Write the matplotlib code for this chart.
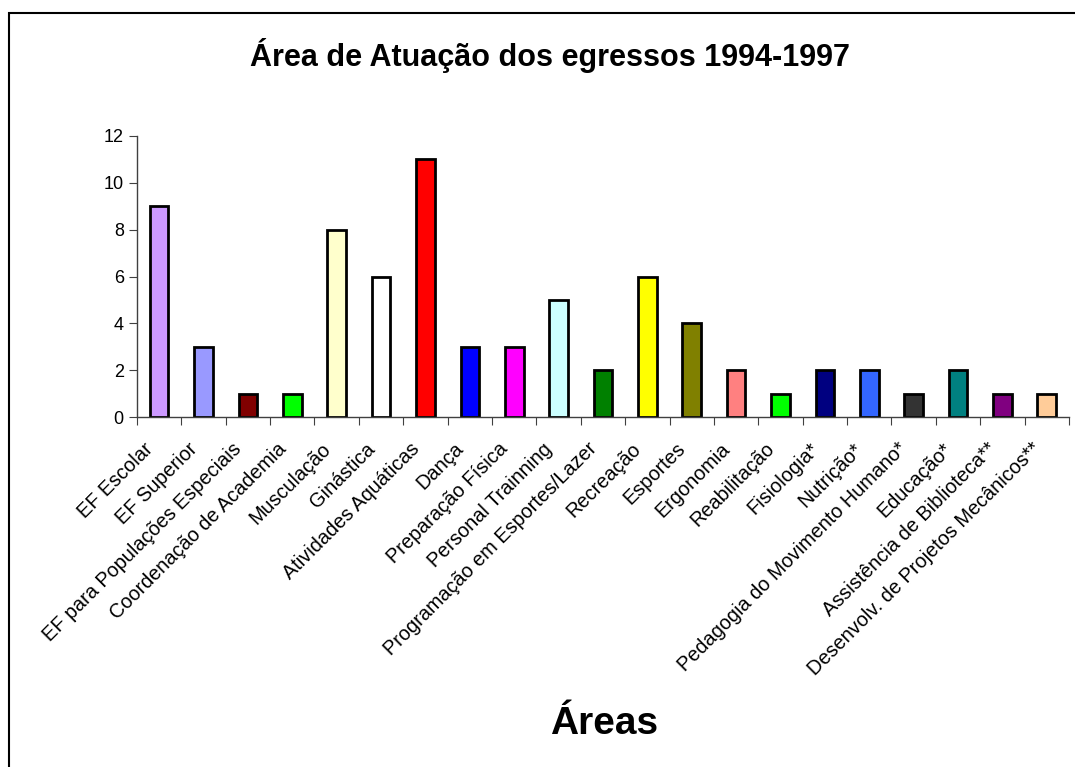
import numpy as np
import matplotlib
matplotlib.use("Agg")
import matplotlib.pyplot as plt
import matplotlib.transforms as mtransforms
from matplotlib.patches import Rectangle

plt.rcParams["font.family"] = ["Liberation Sans", "DejaVu Sans"]

AREAS = [
    "EF Escolar", "EF Superior", "EF para Populações Especiais",
    "Coordenação de Academia", "Musculação", "Ginástica",
    "Atividades Aquáticas", "Dança", "Preparação Física",
    "Personal Trainning", "Programação em Esportes/Lazer", "Recreação",
    "Esportes", "Ergonomia", "Reabilitação", "Fisiologia*", "Nutrição*",
    "Pedagogia do Movimento Humano*", "Educação*",
    "Assistência de Biblioteca**", "Desenvolv. de Projetos Mecânicos**",
]
EGRESSOS = [9, 3, 1, 1, 8, 6, 11, 3, 3, 5, 2, 6, 4, 2, 1, 2, 2, 1, 2, 1, 1]
CORES = [
    "#CC99FF", "#9999FF", "#800000", "#00FF00", "#FFFFCC", "#FFFFFF",
    "#FF0000", "#0000FF", "#FF00FF", "#CCFFFF", "#008000", "#FFFF00",
    "#808000", "#FF8080", "#00FF00", "#000080", "#3366FF", "#333333",
    "#008080", "#800080", "#FFCC99",
]

fig = plt.figure(figsize=(10.75, 7.67), dpi=100)
ax = fig.add_axes([0.1274, 0.4563, 0.8670, 0.3664])

x = np.arange(len(AREAS))
ax.bar(x, EGRESSOS, width=0.42, color=CORES, edgecolor="black", linewidth=2.0)

ax.set_xlim(-0.5, len(AREAS) - 0.5)
ax.set_ylim(0, 12)
ax.set_yticks(range(0, 13, 2))

# marcas nas divisões, rótulos no centro das categorias
ax.set_xticks(np.arange(-0.5, len(AREAS), 1.0))
ax.set_xticklabels([])
ax.set_xticks(x, minor=True)
ax.set_xticklabels(AREAS, minor=True, rotation=45, ha="right",
                   rotation_mode="anchor", fontsize=14.3)
ax.tick_params(axis="x", which="minor", length=0, pad=16)
ax.tick_params(axis="x", which="major", length=6, color="#404040")
ax.tick_params(axis="y", length=6, color="#404040", labelsize=13)

shift = mtransforms.ScaledTranslation(-0.16, 0, fig.dpi_scale_trans)
for lbl in ax.get_xticklabels(minor=True):
    lbl.set_transform(lbl.get_transform() + shift)

for s in ["top", "right"]:
    ax.spines[s].set_visible(False)
for s in ["left", "bottom"]:
    ax.spines[s].set_color("#404040")
    ax.spines[s].set_linewidth(1.0)

fig.text(0.512, 0.928, "Área de Atuação dos egressos 1994-1997",
         ha="center", va="center", fontsize=22, fontweight="bold")
fig.text(0.562, 0.056, "Áreas", ha="center", va="center",
         fontsize=28, fontweight="bold")

# moldura da área do gráfico
fig.patches.append(Rectangle((9 / 1075, -0.1), 1.2, 1 - 13 / 767 + 0.1,
                             transform=fig.transFigure, fill=False,
                             edgecolor="black", linewidth=1.5))

fig.savefig("out.png", dpi=100)
